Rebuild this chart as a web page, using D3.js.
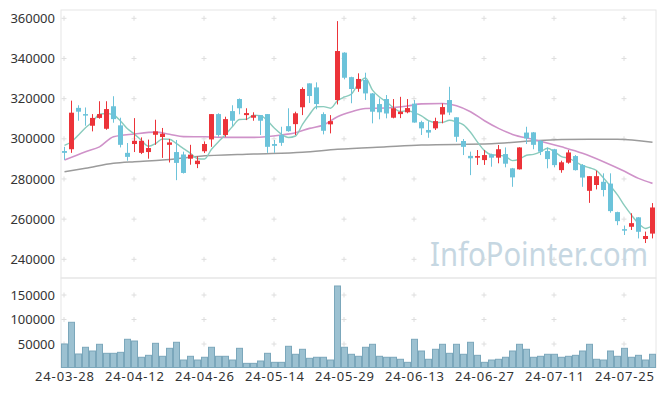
<!DOCTYPE html>
<html>
<head>
<meta charset="utf-8">
<script src="https://cdn.jsdelivr.net/npm/d3@7"></script>
<style>
  body { margin: 0; background: #fff; }
  text { font-family: "Noto Sans", sans-serif; }
</style>
</head>
<body>
<div id="chart"></div>
<script>
// trading days shown on the chart
const dates = [
  "24-03-28","24-03-29","24-04-01","24-04-02","24-04-03","24-04-04","24-04-05","24-04-08","24-04-09","24-04-11",
  "24-04-12","24-04-15","24-04-16","24-04-17","24-04-18","24-04-19","24-04-22","24-04-23","24-04-24","24-04-25",
  "24-04-26","24-04-29","24-04-30","24-05-02","24-05-03","24-05-07","24-05-08","24-05-09","24-05-10","24-05-13",
  "24-05-14","24-05-16","24-05-17","24-05-20","24-05-21","24-05-22","24-05-23","24-05-24","24-05-27","24-05-28",
  "24-05-29","24-05-30","24-05-31","24-06-03","24-06-04","24-06-05","24-06-07","24-06-10","24-06-11","24-06-12",
  "24-06-13","24-06-14","24-06-17","24-06-18","24-06-19","24-06-20","24-06-21","24-06-24","24-06-25","24-06-26",
  "24-06-27","24-06-28","24-07-01","24-07-02","24-07-03","24-07-04","24-07-05","24-07-08","24-07-09","24-07-10",
  "24-07-11","24-07-12","24-07-15","24-07-16","24-07-17","24-07-18","24-07-19","24-07-22","24-07-23","24-07-24",
  "24-07-25","24-07-26","24-07-29","24-07-30","24-07-31"
];

const open = [
  293900,294800,315400,312300,306500,310400,305000,316200,306700,293000,
  297400,293000,293400,302000,300900,297000,293400,292200,290100,287400,
  293800,299700,312300,301900,313800,319800,311800,310500,311800,312300,
  297400,301900,306300,307300,315700,327600,325600,312300,307200,319300,
  342900,330700,324900,329300,322600,317300,319800,310500,312300,313200,
  317500,308300,304400,305200,312100,319300,310700,298900,291500,290600,
  289400,292200,290600,292400,285300,284800,303100,303200,299000,293900,
  294800,284400,288100,291400,286900,274100,277000,278600,277700,263500,
  255000,256200,260900,250100,252800
];
const high = [
  296000,319000,316700,315600,312300,318700,318700,321200,310500,297900,
  310300,300700,299600,309500,305400,299900,299400,293600,297000,291300,
  298700,312300,312700,311000,316700,320100,315200,313200,311800,312300,
  299400,306000,315200,313500,325600,327600,328100,313200,311800,358600,
  343100,330900,332600,332900,322800,320100,321800,319800,320900,319800,
  319300,309000,308800,310500,317600,325900,310700,299900,293600,294400,
  294400,292600,296900,295700,285500,295800,306000,303400,299400,295700,
  295000,289100,294400,291900,287400,281400,284100,282800,282800,263700,
  256800,262900,261000,253800,268000
];
const low = [
  289500,293000,309000,306500,303700,310000,304500,308000,295700,289100,
  293400,292400,290100,297000,290500,288200,279400,282700,287100,285400,
  292900,296000,301000,301000,306300,312200,309300,309000,301900,293000,
  293000,296500,303500,301900,311800,317800,314700,302200,302700,317100,
  329600,317700,323400,319300,307700,309700,310200,310200,310300,312700,
  308000,301900,300500,304400,307700,311800,298500,291900,281900,287000,
  287000,286100,287800,285800,276100,284700,297400,294800,291900,285300,
  285800,283100,287600,284200,276100,268100,274800,271300,263200,257000,
  252100,254600,250400,248100,250400
];
const close = [
  293000,313000,313500,312000,310400,312300,314800,309800,297000,291000,
  299000,299000,295400,303700,302500,298200,288000,283000,292100,289100,
  297400,312300,301900,309800,309000,315200,312800,311700,309000,296000,
  296500,298000,303800,312700,324800,321300,317300,304000,308800,343700,
  330400,324800,329800,322600,313500,313200,312600,315200,313500,315300,
  308100,305200,303100,308800,315800,313100,301000,296000,290300,291400,
  291900,290600,294800,287600,280800,295700,300200,297000,293600,289900,
  286900,288300,293200,284400,280700,281400,281400,274500,264000,259000,
  254500,258000,253700,251600,265800
];
const volume = [
  50000,94300,29600,43300,35700,49400,31000,31000,33000,59600,
  56100,22900,26900,51400,24900,41200,53500,17300,24900,17300,
  22900,43300,24900,24900,17300,41200,10500,10500,15300,31000,
  12600,12600,45300,29000,39200,20800,22900,22900,17300,168400,
  43300,29000,24900,43300,49400,24900,22900,22900,18800,12600,
  59600,35700,18800,39200,49400,31000,49400,29000,53500,26900,
  12600,17300,18800,22900,35700,49400,39200,22900,24900,29000,
  29000,22900,24900,26900,35700,49400,18800,17300,35700,24900,
  41200,22900,26900,17300,29000
];

// 5-day average before the first visible day
const ma5Head = [296700, 298500, 301900, 305500];
// longer averages at these day indexes
const ma20Idx = [0,3,5,7,10,13,15,17,20,23,27,31,33,35,37,39,41,43,46,49,51,54,56,58,60,62,64,67,71,74,77,80,82,84];
const ma20Val = [289400,293600,296000,301000,302400,303300,302300,301100,301000,300700,300700,301900,303000,305200,306900,311000,313500,315100,315300,316300,317400,317600,316500,313500,309000,305200,302200,299700,296000,292800,288600,283800,280300,277800];
const ma60Idx = [0,3,7,10,14,19,27,34,39,46,51,61,67,75,79,84];
const ma60Val = [283600,285300,287800,288600,289400,291200,292400,293250,294750,296050,296900,297500,299050,299750,299750,298300];

const priceTicks = [240000,260000,280000,300000,320000,340000,360000];
const volTicks = [50000,100000,150000];
const dateTicks = dates.filter((d, i) => i % 10 === 0);

const width = 665, height = 396;
const plot = {left: 61, right: 656, top: 10, mid: 278, bottom: 367.5};

const svg = d3.select("#chart").append("svg")
  .attr("width", width).attr("height", height);

const x = d3.scaleBand().domain(dates).range([plot.left, plot.right]).padding(0);
const bw = x.bandwidth();
const cx = d => x(d) + bw / 2;

const y = d3.scaleLinear().domain([240000, 360000]).range([259.3, 18.3]);
const yv = d3.scaleLinear().domain([0, 150000]).range([368.5, 295]);

// panel frames
svg.append("rect").attr("x", plot.left).attr("y", plot.top)
  .attr("width", plot.right - plot.left).attr("height", plot.mid - plot.top)
  .attr("fill", "none").attr("stroke", "#e6e6e6");
svg.append("rect").attr("x", plot.left).attr("y", plot.mid)
  .attr("width", plot.right - plot.left).attr("height", plot.bottom - plot.mid)
  .attr("fill", "none").attr("stroke", "#e6e6e6");

// little "+" grid marks
const crossY = priceTicks.map(y).concat(volTicks.map(yv));
const crosses = [];
dateTicks.forEach(d => crossY.forEach(v => crosses.push([cx(d) - 0.5, v])));
svg.append("g").selectAll("path").data(crosses).enter().append("path")
  .attr("d", d => `M${d[0]-2.5},${d[1]}h5M${d[0]},${d[1]-2.5}v5`)
  .attr("stroke", "#dedede").attr("stroke-width", 1);

// watermark
svg.append("text").attr("x", 430).attr("y", 266)
  .attr("textLength", 218).attr("lengthAdjust", "spacingAndGlyphs")
  .attr("font-size", 32).attr("fill", "#c6d7e2")
  .text("InfoPointer.com");

// axes
const yAxis = svg.append("g").attr("transform", `translate(${plot.left},0)`)
  .call(d3.axisLeft(y).tickValues(priceTicks).tickSize(0).tickPadding(6).tickFormat(d3.format("d")));
const vAxis = svg.append("g").attr("transform", `translate(${plot.left},0)`)
  .call(d3.axisLeft(yv).tickValues(volTicks).tickSize(0).tickPadding(6).tickFormat(d3.format("d")));
const xAxis = svg.append("g").attr("transform", `translate(0,${plot.bottom})`)
  .call(d3.axisBottom(x).tickValues(dateTicks).tickSize(0).tickPadding(4));
[yAxis, vAxis, xAxis].forEach(g => {
  g.select(".domain").remove();
  g.selectAll("text").attr("font-size", 13).attr("fill", "#333")
    .attr("font-family", "'Noto Sans', sans-serif");
});
// the reference font has wide dashes, so the date labels run a bit wider
xAxis.selectAll("text").attr("textLength", 59).attr("lengthAdjust", "spacing");

// volume bars
svg.append("g").selectAll("rect").data(dates).enter().append("rect")
  .attr("x", d => x(d) + 0.5)
  .attr("y", (d, i) => yv(volume[i]))
  .attr("width", bw - 1)
  .attr("height", (d, i) => plot.bottom - yv(volume[i]))
  .attr("fill", "#9cc1d1").attr("stroke", "#7ba7bb").attr("stroke-width", 1);

// moving averages
const ma5 = close.map((c, i) => i < 4 ? ma5Head[i] : d3.mean(close.slice(i - 4, i + 1)));
const line = d3.line().x(d => cx(dates[d[0]])).y(d => y(d[1])).curve(d3.curveMonotoneX);

svg.append("path").datum(ma60Idx.map((k, j) => [k, ma60Val[j]]))
  .attr("d", line).attr("fill", "none").attr("stroke", "#9b9b9b").attr("stroke-width", 1.5);
svg.append("path").datum(ma20Idx.map((k, j) => [k, ma20Val[j]]))
  .attr("d", line).attr("fill", "none").attr("stroke", "#cf92c9").attr("stroke-width", 1.6);
svg.append("path").datum(ma5.map((v, i) => [i, v]))
  .attr("d", line).attr("fill", "none").attr("stroke", "#8acbbd").attr("stroke-width", 1.4);

// candles
const up = "#ec3339", down = "#6cc3da";
const candles = svg.append("g").selectAll("g").data(dates).enter().append("g");
candles.append("line")
  .attr("x1", d => cx(d)).attr("x2", d => cx(d))
  .attr("y1", (d, i) => y(high[i])).attr("y2", (d, i) => y(low[i]))
  .attr("stroke", (d, i) => close[i] >= open[i] ? up : down).attr("stroke-width", 1);
candles.append("rect")
  .attr("x", d => cx(d) - 2.5)
  .attr("y", (d, i) => y(Math.max(open[i], close[i])))
  .attr("width", 5)
  .attr("height", (d, i) => Math.max(1.5, Math.abs(y(open[i]) - y(close[i]))))
  .attr("fill", (d, i) => close[i] >= open[i] ? up : down);
</script>
</body>
</html>
